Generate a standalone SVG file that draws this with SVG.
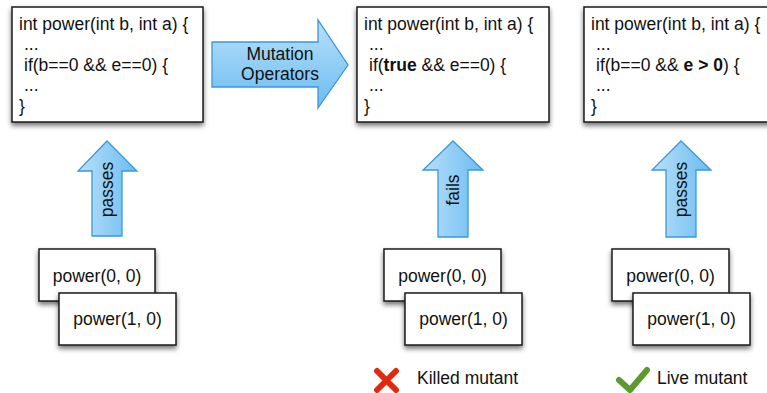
<svg xmlns="http://www.w3.org/2000/svg" width="767" height="393" viewBox="0 0 767 393">
<defs>
<filter id="sh" x="-20%" y="-20%" width="140%" height="150%">
<feDropShadow dx="0" dy="3" stdDeviation="2.5" flood-color="#000" flood-opacity="0.55"/>
</filter>
<linearGradient id="gh" x1="0" y1="0" x2="0" y2="1">
<stop offset="0" stop-color="#b9e0fa"/>
<stop offset="1" stop-color="#6bbcf0"/>
</linearGradient>
<linearGradient id="gv" x1="0" y1="0" x2="1" y2="0">
<stop offset="0" stop-color="#b9e0fa"/>
<stop offset="1" stop-color="#6bbcf0"/>
</linearGradient>
</defs>
<style>
.box{fill:#fff;stroke:#1a1a1a;stroke-width:1.5;filter:url(#sh)}
.arr{stroke:#3a98dc;stroke-width:1.3;stroke-linejoin:miter}
text{font-family:"Liberation Sans",Arial,sans-serif;font-size:17.5px;fill:#111}
.c{text-anchor:middle}
b,.b{font-weight:bold}
</style>
<rect width="767" height="393" fill="#fff"/>

<g id="code-original">
<rect class="box" x="12" y="7" width="191" height="115"/>
<text x="19" y="30">int power(int b, int a) {</text>
<text x="24" y="50">...</text>
<text x="24" y="71">if(b==0 &amp;&amp; e==0) {</text>
<text x="24" y="91">...</text>
<text x="19" y="112">}</text>
</g>

<g id="code-mutant1">
<rect class="box" x="357" y="7" width="192" height="115"/>
<text x="364" y="30">int power(int b, int a) {</text>
<text x="369" y="50">...</text>
<text x="369" y="71">if(<tspan class="b">true</tspan> &amp;&amp; e==0) {</text>
<text x="369" y="91">...</text>
<text x="364" y="112">}</text>
</g>

<g id="code-mutant2">
<rect class="box" x="584" y="7" width="192" height="115"/>
<text x="591" y="30">int power(int b, int a) {</text>
<text x="596" y="50">...</text>
<text x="596" y="71">if(b==0 &amp;&amp; <tspan class="b">e &gt; 0</tspan>) {</text>
<text x="596" y="91">...</text>
<text x="591" y="112">}</text>
</g>

<g id="connectors">
<g id="arrow-mutation">
<path class="arr" fill="url(#gh)" d="M212,42 L318,42 L318,20 L348,65 L318,108 L318,87 L212,87 Z"/>
<text class="c" x="280" y="60">Mutation</text>
<text class="c" x="280" y="80">Operators</text>
</g>
<g id="arrow-passes1">
<path class="arr" fill="url(#gv)" d="M92,236 L92,171 L78,171 L107,141 L137,171 L122,171 L122,236 Z"/>
<text class="c" transform="translate(113,189.5) rotate(-90)">passes</text>
</g>
<g id="arrow-fails">
<path class="arr" fill="url(#gv)" d="M438,237 L438,170 L423,170 L453,141 L483,170 L468,170 L468,237 Z"/>
<text class="c" transform="translate(459,190) rotate(-90)">fails</text>
</g>
<g id="arrow-passes2">
<path class="arr" fill="url(#gv)" d="M666,237 L666,170 L652,170 L681,141 L711,170 L696,170 L696,237 Z"/>
<text class="c" transform="translate(687,189.5) rotate(-90)">passes</text>
</g>
</g>

<g id="tests1">
<rect class="box" x="39" y="249" width="116" height="52"/>
<text class="c" x="97" y="282">power(0, 0)</text>
<rect class="box" x="59" y="293" width="117" height="52"/>
<text class="c" x="117.5" y="325">power(1, 0)</text>
</g>
<g id="tests2">
<rect class="box" x="384" y="249" width="117" height="52"/>
<text class="c" x="442.5" y="282">power(0, 0)</text>
<rect class="box" x="405" y="293" width="117" height="52"/>
<text class="c" x="463.5" y="325">power(1, 0)</text>
</g>
<g id="tests3">
<rect class="box" x="612" y="249" width="117" height="52"/>
<text class="c" x="670.5" y="282">power(0, 0)</text>
<rect class="box" x="633" y="293" width="117" height="52"/>
<text class="c" x="691.5" y="325">power(1, 0)</text>
</g>

<g id="legend-killed">
<path d="M377,371 L396,390 M396,371 L377,390" stroke="#e02a10" stroke-width="6" stroke-linecap="round" fill="none"/>
<text x="417" y="384">Killed mutant</text>
</g>
<g id="legend-live">
<path d="M619,380 L630,390 L647,370" stroke="#5a9a2e" stroke-width="6" stroke-linecap="round" stroke-linejoin="round" fill="none"/>
<text x="657" y="384">Live mutant</text>
</g>
</svg>
